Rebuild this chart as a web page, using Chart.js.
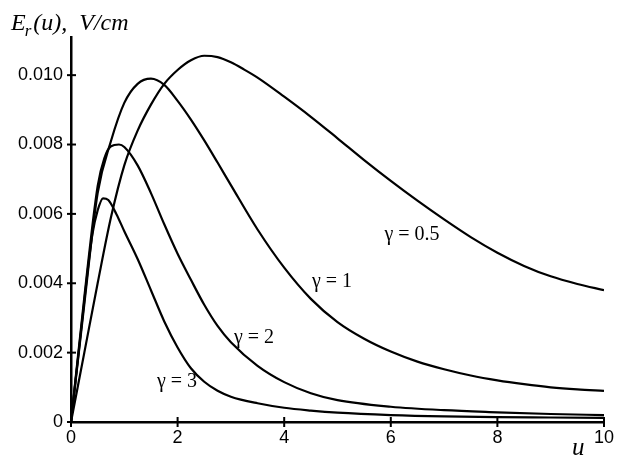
<!DOCTYPE html>
<html>
<head>
<meta charset="utf-8">
<script src="https://cdn.jsdelivr.net/npm/chart.js@4.4.1/dist/chart.umd.min.js"></script>
<style>
html, body { margin: 0; padding: 0; background: #fff; }
#wrap { width: 619px; height: 457px; }
</style>
</head>
<body>
<div id="wrap"><canvas id="c" width="619" height="457"></canvas></div>
<script>
// 曲線資料
var u05 = [0, 0.25, 0.5, 0.75, 1.0, 1.25, 1.5, 1.75, 2.0, 2.25, 2.5, 2.75, 3.0, 3.25, 3.5, 4.0, 4.5, 5.0, 5.5, 6.0, 6.5, 7.0, 7.5, 8.0, 8.5, 9.0, 9.5, 10];
var e05 = [0, 0.0020, 0.0040, 0.0059, 0.0074, 0.0084, 0.00915, 0.00975, 0.01015, 0.01043, 0.01056, 0.01052, 0.01037, 0.01016, 0.00993, 0.00938, 0.00880, 0.00818, 0.00755, 0.00695, 0.00638, 0.00584, 0.00533, 0.00488, 0.00450, 0.00420, 0.00398, 0.0038];

var u1 = [0, 0.25, 0.5, 0.75, 1.0, 1.25, 1.5, 1.75, 2.0, 2.25, 2.5, 2.75, 3.0, 3.5, 4.0, 4.5, 5.0, 5.5, 6.0, 6.5, 7.0, 7.5, 8.0, 8.5, 9.0, 9.5, 10];
var e1 = [0, 0.0034, 0.0066, 0.0081, 0.0092, 0.00975, 0.0099, 0.00972, 0.00926, 0.00872, 0.00812, 0.00748, 0.00683, 0.00555, 0.00445, 0.00355, 0.00288, 0.00240, 0.00203, 0.00174, 0.00152, 0.00134, 0.00120, 0.00109, 0.00100, 0.00094, 0.0009];

var u2 = [0, 0.25, 0.5, 0.625, 0.75, 0.9, 1.0, 1.25, 1.5, 1.75, 2.0, 2.25, 2.5, 2.75, 3.0, 3.5, 4.0, 4.5, 5.0, 6.0, 7.0, 8.0, 9.0, 10];
var e2 = [0, 0.0036, 0.0068, 0.0076, 0.00795, 0.0080, 0.00793, 0.0074, 0.0066, 0.00570, 0.00485, 0.00410, 0.00338, 0.00277, 0.0023, 0.00162, 0.00115, 0.00083, 0.00063, 0.00044, 0.00034, 0.00028, 0.00023, 0.0002];

var u3 = [0, 0.2, 0.4, 0.5, 0.6, 0.7, 0.85, 1.0, 1.25, 1.5, 1.75, 2.0, 2.25, 2.5, 2.75, 3.0, 3.5, 4.0, 4.5, 5.0, 6.0, 7.0, 8.0, 9.0, 10];
var e3 = [0, 0.0028, 0.0054, 0.0061, 0.00645, 0.0064, 0.0060, 0.0055, 0.0047, 0.0038, 0.0029, 0.00215, 0.00155, 0.00116, 0.00090, 0.00073, 0.00054, 0.00041, 0.00033, 0.00027, 0.0002, 0.00016, 0.00014, 0.00013, 0.00012];

var curveNames = ['γ = 0.5', 'γ = 1', 'γ = 2', 'γ = 3'];
var xTicks = [0, 2, 4, 6, 8, 10];
var yTicks = [0, 0.002, 0.004, 0.006, 0.008, 0.010];

function pts(xs, ys) {
    return xs.map(function (x, i) { return { x: x, y: ys[i] }; });
}

// 刻度與文字標註
var decorPlugin = {
    id: 'decor',
    afterDraw: function (chart) {
        var ctx = chart.ctx;
        var xs = chart.scales.x, ys = chart.scales.y;
        var x0 = xs.getPixelForValue(0), y0 = ys.getPixelForValue(0);
        ctx.save();
        ctx.strokeStyle = '#000';
        ctx.lineWidth = 2;
        yTicks.forEach(function (v) {
            var py = ys.getPixelForValue(v);
            ctx.beginPath(); ctx.moveTo(x0 - 4, py); ctx.lineTo(x0 + 5, py); ctx.stroke();
        });
        xTicks.forEach(function (v) {
            var px = xs.getPixelForValue(v);
            ctx.beginPath(); ctx.moveTo(px, y0 + 5); ctx.lineTo(px, y0 - 5); ctx.stroke();
        });
        ctx.fillStyle = '#000';
        ctx.textBaseline = 'alphabetic';
        // y 軸標題
        ctx.textAlign = 'left';
        ctx.font = 'italic 24px "Liberation Serif"';
        ctx.fillText('E', 11, 30);
        var w = ctx.measureText('E').width;
        ctx.font = 'italic 17px "Liberation Serif"';
        ctx.fillText('r', 11 + w - 1, 36);
        var w2 = ctx.measureText('r').width;
        ctx.font = 'italic 24px "Liberation Serif"';
        ctx.fillText('(u),  V/cm', 11 + w + w2 + 1, 30);
        // x 軸標題
        ctx.font = 'italic 25px "Liberation Serif"';
        ctx.fillText('u', 572, 455);
        // 曲線名稱
        ctx.font = '20px "Liberation Serif"';
        ctx.textAlign = 'center';
        ctx.fillText(curveNames[0], 412, 240);
        ctx.fillText(curveNames[1], 332, 287);
        ctx.fillText(curveNames[2], 254, 343);
        ctx.fillText(curveNames[3], 177, 387);
        ctx.restore();
    }
};

function ds(label, xs, ys) {
    return {
        label: label,
        data: pts(xs, ys),
        borderColor: '#000',
        borderWidth: 2.2,
        pointRadius: 0,
        fill: false,
        cubicInterpolationMode: 'monotone'
    };
}

var ctx = document.getElementById('c').getContext('2d');
var myChart = new Chart(ctx, {
    type: 'line',
    data: {
        datasets: [
            ds(curveNames[0], u05, e05),
            ds(curveNames[1], u1, e1),
            ds(curveNames[2], u2, e2),
            ds(curveNames[3], u3, e3)
        ]
    },
    options: {
        responsive: false,
        animation: false,
        layout: { padding: { top: 37, right: 9, left: 0, bottom: 0 } },
        plugins: {
            legend: { display: false },
            title: { display: false },
            tooltip: { enabled: false }
        },
        scales: {
            x: {
                type: 'linear',
                min: 0,
                max: 10,
                afterFit: function (s) { s.height = 35; },
                grid: { display: false, drawTicks: false },
                border: { display: true, color: '#000', width: 2.5 },
                ticks: {
                    stepSize: 2,
                    padding: 5,
                    color: '#000',
                    maxRotation: 0,
                    font: { family: '"Liberation Sans"', size: 18 }
                }
            },
            y: {
                type: 'linear',
                min: 0,
                max: 0.0111,
                afterFit: function (s) { s.width = 71; },
                grid: { display: false, drawTicks: false },
                border: { display: true, color: '#000', width: 2.5 },
                ticks: {
                    stepSize: 0.002,
                    includeBounds: false,
                    padding: 8,
                    color: '#000',
                    font: { family: '"Liberation Sans"', size: 18 },
                    callback: function (v) { return v === 0 ? '0' : v.toFixed(3); }
                }
            }
        }
    },
    plugins: [decorPlugin]
});
</script>
</body>
</html>
